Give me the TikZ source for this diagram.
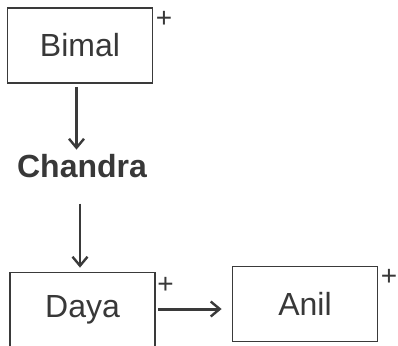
\documentclass[tikz,border=0pt]{standalone}
\usepackage{fontspec}
\setmainfont{Liberation Sans}
\usetikzlibrary{arrows.meta}
\definecolor{ln}{HTML}{3A3A3A}
\definecolor{tx}{HTML}{383838}
\begin{document}
\begin{tikzpicture}[x=1pt,y=-1pt,
  box/.style={draw=ln,line width=1.8pt,minimum width=145pt,minimum height=75pt,inner sep=0pt,
    font=\fontsize{32}{32}\selectfont,text=tx},
  plus/.style={font=\fontsize{28}{28}\selectfont,text=tx,inner sep=0pt},
  arr/.style={draw=ln,-{Straight Barb[length=9pt,width=15pt,line width=2.4pt]}}]
\useasboundingbox (0,0) rectangle (398,345);
\node[box] (bimal) at (80,45.5) {Bimal};
\node[box] (daya) at (82.5,310) {Daya};
\node[box] (anil) at (305,304) {Anil};
\node[font=\bfseries\fontsize{32}{32}\selectfont,text=tx,anchor=base,inner sep=0pt] (chandra) at (82,177) {Chandra};
\node[plus] (p1) at (164,19) {+};
\node[plus] (p2) at (165.5,285) {+};
\node[plus] (p3) at (389,277) {+};
\draw[arr,line width=3pt,shorten <=3pt,shorten >=4pt] ([xshift=-3.5pt]bimal.south) -- ([xshift=-5.5pt]chandra.north);
\draw[arr,line width=1.6pt,shorten <=26pt,shorten >=4pt] ([xshift=-2pt]chandra.south) -- ([xshift=-2.5pt]daya.north);
\draw[arr,line width=3pt,shorten <=2pt,shorten >=10pt] ([yshift=1pt]daya.east) -- ([yshift=1pt]daya.east -| anil.west);
\end{tikzpicture}
\end{document}
